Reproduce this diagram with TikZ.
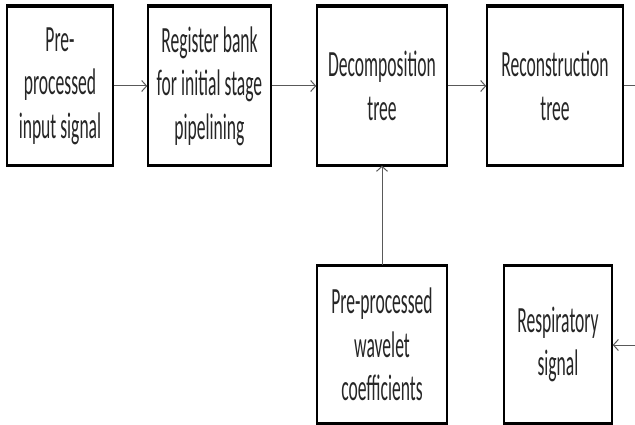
\documentclass[tikz,border=0pt]{standalone}
\usepackage{fontspec}
\setmainfont{Carlito}[FakeStretch=0.475]
\usetikzlibrary{arrows.meta}
\definecolor{txt}{HTML}{262626}
\definecolor{arr}{HTML}{595959}
\tikzset{
  blk/.style={draw=black, line width=1.4pt, inner sep=0pt, align=center,
    text=txt, font=\fontsize{37}{43.5}\selectfont},
  conn/.style={draw=arr, line width=1pt, -{Straight Barb[length=5pt,width=11pt,line width=1pt]}},
  plain/.style={draw=arr, line width=1pt},
  thickedge/.style={line width=3.6pt, black}
}
\begin{document}
\begin{tikzpicture}[x=1pt,y=-1pt]
\useasboundingbox (0,0) rectangle (635,425);
\node[blk, minimum width=106pt, minimum height=158pt] (b1) at (60,86) {Pre-\\processed\\input signal};
\node[blk, minimum width=123pt, minimum height=158pt] (b2) at (209.5,86) {Register bank\\for initial stage\\pipelining};
\node[blk, minimum width=130pt, minimum height=158pt] (b3) at (382,86) {Decomposition\\tree};
\node[blk, minimum width=136pt, minimum height=158pt] (b4) at (555,86) {Reconstruction\\tree};
\node[blk, minimum width=130pt, minimum height=157pt] (b5) at (382,344.5) {Pre-processed\\wavelet\\coefficients};
\node[blk, minimum width=108pt, minimum height=157pt] (b6) at (558,344.5) {Respiratory\\signal};
\foreach \n in {b1,b2,b3,b4,b5,b6}{
  \draw[thickedge] (\n.north west) -- (\n.north east);
  \draw[thickedge] (\n.south west) -- (\n.south east);
}
\coordinate (outR) at (635,86);
\coordinate (inR) at (635,345);
\draw[conn] (b1.east) -- (b2.west);
\draw[conn] (b2.east) -- (b3.west);
\draw[conn] (b3.east) -- (b4.west);
\draw[plain] (b4.east) -- (outR);
\draw[conn] (b5.north) -- (b3.south);
\draw[conn] (inR) -- (b6.east |- inR);
\end{tikzpicture}
\end{document}
